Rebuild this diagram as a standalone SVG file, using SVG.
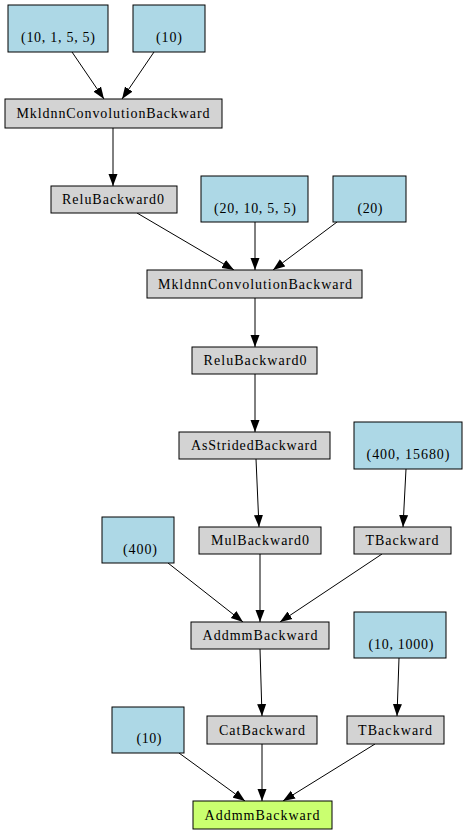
<svg xmlns="http://www.w3.org/2000/svg" width="467" height="835" viewBox="0 0 467 835">
<style>
.b{fill:#add8e6;stroke:#000;stroke-width:1}
.g{fill:#d3d3d3;stroke:#000;stroke-width:1}
.y{fill:#caff70;stroke:#000;stroke-width:1}
text{font-family:"Liberation Serif","Times New Roman",serif;font-size:14px;text-anchor:middle;fill:#000}
.e line{stroke:#000;stroke-width:1;marker-end:url(#a)}
</style>
<defs>
<marker id="a" markerUnits="userSpaceOnUse" markerWidth="12" markerHeight="10" refX="12" refY="5" orient="auto">
<path d="M0,0.5 L12,5 L0,9.5 z" fill="#000"/>
</marker>
</defs>
<rect width="467" height="835" fill="#fff"/>
<g class="e" id="edges">
<line x1="72" y1="52" x2="104" y2="99"/>
<line x1="154" y1="52" x2="122" y2="99"/>
<line x1="113" y1="128" x2="113" y2="186"/>
<line x1="137" y1="213" x2="234" y2="270"/>
<line x1="255" y1="222" x2="255" y2="270"/>
<line x1="337" y1="222" x2="273" y2="270"/>
<line x1="255" y1="298" x2="255" y2="347"/>
<line x1="255" y1="374" x2="255" y2="432"/>
<line x1="256" y1="459" x2="259" y2="527"/>
<line x1="406" y1="469" x2="403" y2="527"/>
<line x1="168" y1="563" x2="243" y2="622"/>
<line x1="260" y1="554" x2="260" y2="622"/>
<line x1="382" y1="554" x2="280" y2="622"/>
<line x1="260" y1="649" x2="262" y2="716"/>
<line x1="399" y1="658" x2="397" y2="716"/>
<line x1="179" y1="753" x2="245" y2="801"/>
<line x1="262" y1="744" x2="262" y2="801"/>
<line x1="375" y1="744" x2="283" y2="801"/>
</g>
<g id="n1"><rect class="b" x="8" y="5" width="100" height="47"/><text x="58" y="42" textLength="74" lengthAdjust="spacing">(10, 1, 5, 5)</text></g>
<g id="n2"><rect class="b" x="133" y="5" width="72" height="47"/><text x="169" y="42" textLength="26" lengthAdjust="spacing">(10)</text></g>
<g id="n3"><rect class="g" x="5" y="99" width="217" height="29"/><text x="113" y="118" textLength="193" lengthAdjust="spacing">MkldnnConvolutionBackward</text></g>
<g id="n4"><rect class="g" x="51" y="186" width="126" height="27"/><text x="113" y="204" textLength="102" lengthAdjust="spacing">ReluBackward0</text></g>
<g id="n5"><rect class="b" x="201" y="176" width="107" height="46"/><text x="255" y="213" textLength="82" lengthAdjust="spacing">(20, 10, 5, 5)</text></g>
<g id="n6"><rect class="b" x="333" y="176" width="73" height="46"/><text x="370" y="213" textLength="25" lengthAdjust="spacing">(20)</text></g>
<g id="n7"><rect class="g" x="147" y="270" width="215" height="28"/><text x="255" y="289" textLength="194" lengthAdjust="spacing">MkldnnConvolutionBackward</text></g>
<g id="n8"><rect class="g" x="192" y="347" width="125" height="27"/><text x="255" y="365" textLength="103" lengthAdjust="spacing">ReluBackward0</text></g>
<g id="n9"><rect class="g" x="179" y="432" width="151" height="27"/><text x="254" y="450" textLength="126" lengthAdjust="spacing">AsStridedBackward</text></g>
<g id="n10"><rect class="b" x="354" y="422" width="108" height="47"/><text x="408" y="459" textLength="83" lengthAdjust="spacing">(400, 15680)</text></g>
<g id="n11"><rect class="b" x="102" y="517" width="72" height="46"/><text x="140" y="554" textLength="34" lengthAdjust="spacing">(400)</text></g>
<g id="n12"><rect class="g" x="199" y="527" width="122" height="27"/><text x="260" y="545" textLength="98" lengthAdjust="spacing">MulBackward0</text></g>
<g id="n13"><rect class="g" x="354" y="527" width="97" height="27"/><text x="402" y="545" textLength="73" lengthAdjust="spacing">TBackward</text></g>
<g id="n14"><rect class="g" x="191" y="622" width="138" height="27"/><text x="260" y="640" textLength="115" lengthAdjust="spacing">AddmmBackward</text></g>
<g id="n15"><rect class="b" x="354" y="612" width="92" height="46"/><text x="401" y="649" textLength="65" lengthAdjust="spacing">(10, 1000)</text></g>
<g id="n16"><rect class="b" x="112" y="707" width="72" height="46"/><text x="149" y="743" textLength="25" lengthAdjust="spacing">(10)</text></g>
<g id="n17"><rect class="g" x="207" y="716" width="110" height="28"/><text x="262" y="735" textLength="86" lengthAdjust="spacing">CatBackward</text></g>
<g id="n18"><rect class="g" x="347" y="716" width="97" height="28"/><text x="395" y="735" textLength="74" lengthAdjust="spacing">TBackward</text></g>
<g id="n19"><rect class="y" x="193" y="801" width="139" height="28"/><text x="262" y="820" textLength="115" lengthAdjust="spacing">AddmmBackward</text></g>
</svg>
